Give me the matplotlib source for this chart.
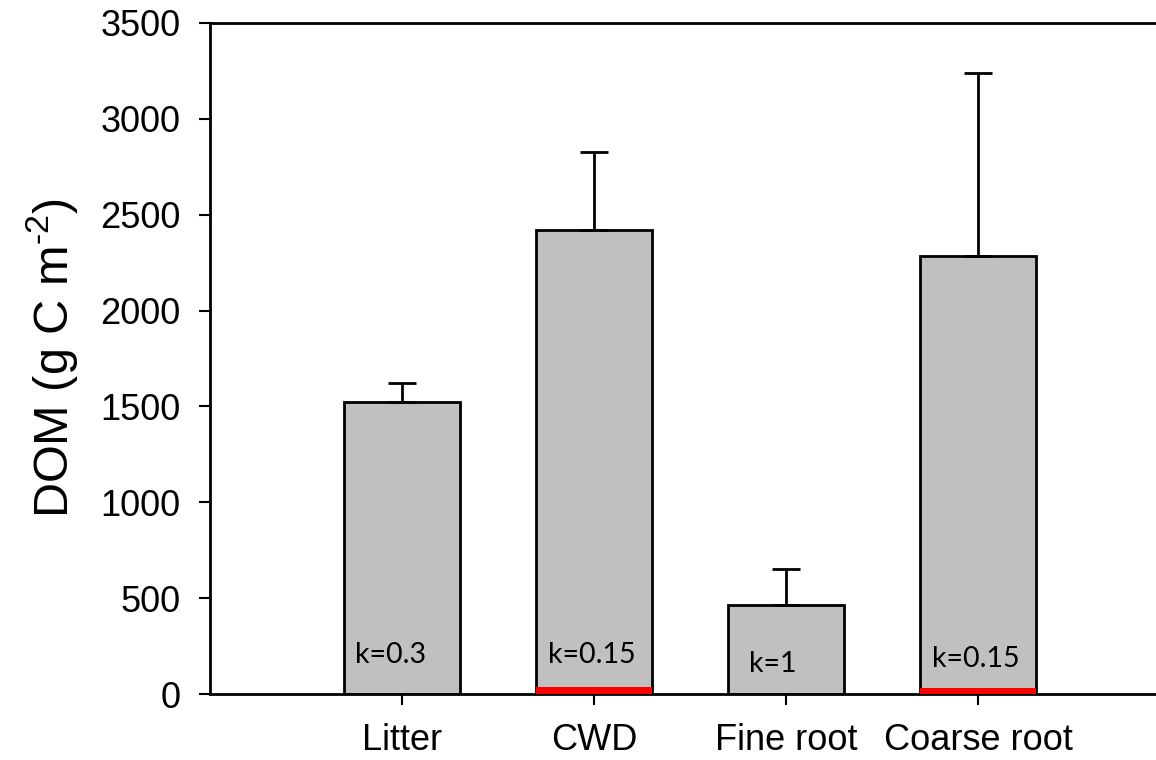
import matplotlib
matplotlib.use("Agg")
import matplotlib.pyplot as plt

# DOM pools, mean and upper error
pools = ["Litter", "CWD", "Fine root", "Coarse root"]
dom_mean = [1523, 2420, 464, 2285]
dom_err = [99, 407, 188, 955]
# red strip at the base of the woody pools
red_part = [0, 36, 0, 30]
k_labels = ["k=0.3", "k=0.15", "k=1", "k=0.15"]
k_dx = [-0.06, -0.01, -0.07, -0.01]
k_y = [162, 162, 115, 141]

plt.rcParams["font.family"] = ["Liberation Sans", "DejaVu Sans"]
plt.rcParams["mathtext.fontset"] = "custom"
plt.rcParams["mathtext.rm"] = "Liberation Sans"
plt.rcParams["mathtext.it"] = "Liberation Sans"

fig = plt.figure(figsize=(11.56, 7.6), dpi=100)
ax = fig.add_axes([210 / 1156, 1 - 694 / 760, 960 / 1156, 671 / 760])

x = list(range(len(pools)))
ax.bar(x, dom_mean, width=0.6, color="#c0c0c0", edgecolor="black", linewidth=2,
       yerr=[[0] * len(x), dom_err], capsize=10,
       error_kw=dict(elinewidth=2, capthick=2, ecolor="black"), zorder=2)
ax.bar(x, red_part, width=0.6, color="red", edgecolor="none", zorder=3)

for xi, dx, yy, lab in zip(x, k_dx, k_y, k_labels):
    ax.text(xi + dx, yy, lab, ha="center", va="baseline", fontsize=20.5,
            family=["Lato", "DejaVu Sans"], color="black", zorder=4)

ax.set_xlim(-1, 4)
ax.set_ylim(0, 3500)
ax.set_yticks(range(0, 3501, 500))
ax.set_xticks(x)
ax.set_xticklabels(pools)
ax.spines["right"].set_visible(False)
for s in ["left", "bottom", "top"]:
    ax.spines[s].set_linewidth(2)
ax.tick_params(axis="both", direction="out", length=8, width=1.5, labelsize=26)
ax.tick_params(axis="y", pad=13)
ax.tick_params(axis="x", pad=13)
ax.set_ylabel(r"DOM (g C m$^{\text{-2}}$)", fontsize=35, labelpad=15)

fig.savefig("out.png", dpi=100)
